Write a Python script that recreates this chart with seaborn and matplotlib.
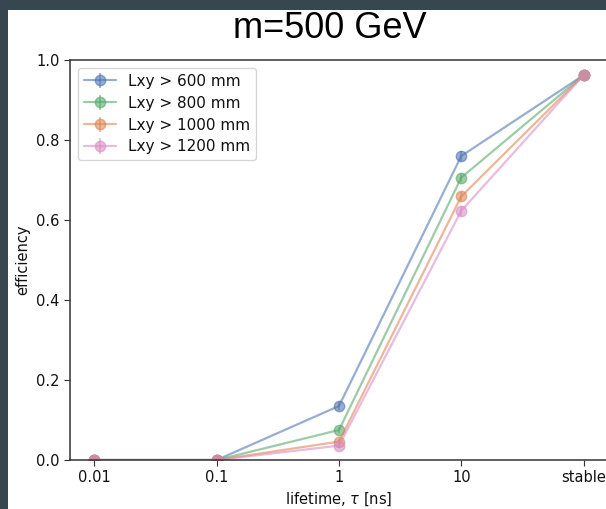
import matplotlib
matplotlib.use("Agg")
import matplotlib.pyplot as plt
import seaborn as sns
import numpy as np
import pandas as pd
from matplotlib.patches import Rectangle

# lifetime categories and efficiencies per Lxy cut
lifetimes = ["0.01", "0.1", "1", "10", "stable"]
cuts = ["Lxy > 600 mm", "Lxy > 800 mm", "Lxy > 1000 mm", "Lxy > 1200 mm"]
eff_600 = [0.0, 0.0, 0.135, 0.760, 0.962]
eff_800 = [0.0, 0.0, 0.075, 0.706, 0.962]
eff_1000 = [0.0, 0.0, 0.046, 0.659, 0.962]
eff_1200 = [0.0, 0.0, 0.036, 0.623, 0.962]
err_600 = [0.002, 0.002, 0.010, 0.012, 0.005]
err_800 = [0.002, 0.002, 0.008, 0.012, 0.005]
err_1000 = [0.002, 0.002, 0.006, 0.012, 0.005]
err_1200 = [0.002, 0.002, 0.006, 0.012, 0.005]

sns.set_style("ticks")
plt.rcParams['font.family'] = ['DejaVu Sans']
plt.rcParams['text.color'] = '#111111'
plt.rcParams['axes.labelcolor'] = '#111111'
plt.rcParams['xtick.color'] = '#111111'
plt.rcParams['ytick.color'] = '#111111'

deep = sns.color_palette("deep")
colors = [deep[0], deep[2], deep[1], deep[6]]

fig = plt.figure(figsize=(6.06, 5.09), dpi=100)
fig.patch.set_facecolor('#37474F')
fig.patches.append(Rectangle((8 / 606, 0), 1, (509 - 10) / 509, transform=fig.transFigure,
                             facecolor='white', edgecolor='none', zorder=-10))

ax = fig.add_axes([70 / 606, 49 / 509, 538 / 606, 400 / 509])
ax.set_zorder(1)
x = np.arange(len(lifetimes))
for name, eff, err, c in zip(cuts, [eff_600, eff_800, eff_1000, eff_1200],
                             [err_600, err_800, err_1000, err_1200], colors):
    ax.errorbar(x, eff, yerr=err, color=c, marker='o', markersize=7.5, lw=1.6,
                elinewidth=1.2, alpha=0.58, label=name)

ax.set_xticks(x)
ax.set_xticklabels(lifetimes)
ax.set_xlim(-0.2, 4.2)
ax.set_ylim(0, 1.0)
ax.set_yticks([0.0, 0.2, 0.4, 0.6, 0.8, 1.0])
ax.tick_params(labelsize=10.5, length=4, color='#333333')
for s in ax.spines.values():
    s.set_edgecolor('#333333')
    s.set_linewidth(1.1)
ax.set_xlabel(r"lifetime, $\tau$ [ns]", fontsize=10.5, labelpad=4)
ax.set_ylabel("efficiency", fontsize=10.5)
ax.legend(loc='upper left', fontsize=11, frameon=True, handlelength=2.1,
          labelspacing=0.45)

fig.text(330 / 606, 1 - 28 / 509, "m=500 GeV", ha='center', va='center',
         fontsize=26, color='black', family=['Liberation Sans', 'DejaVu Sans'])

fig.savefig("out.png", dpi=100, facecolor=fig.get_facecolor())
